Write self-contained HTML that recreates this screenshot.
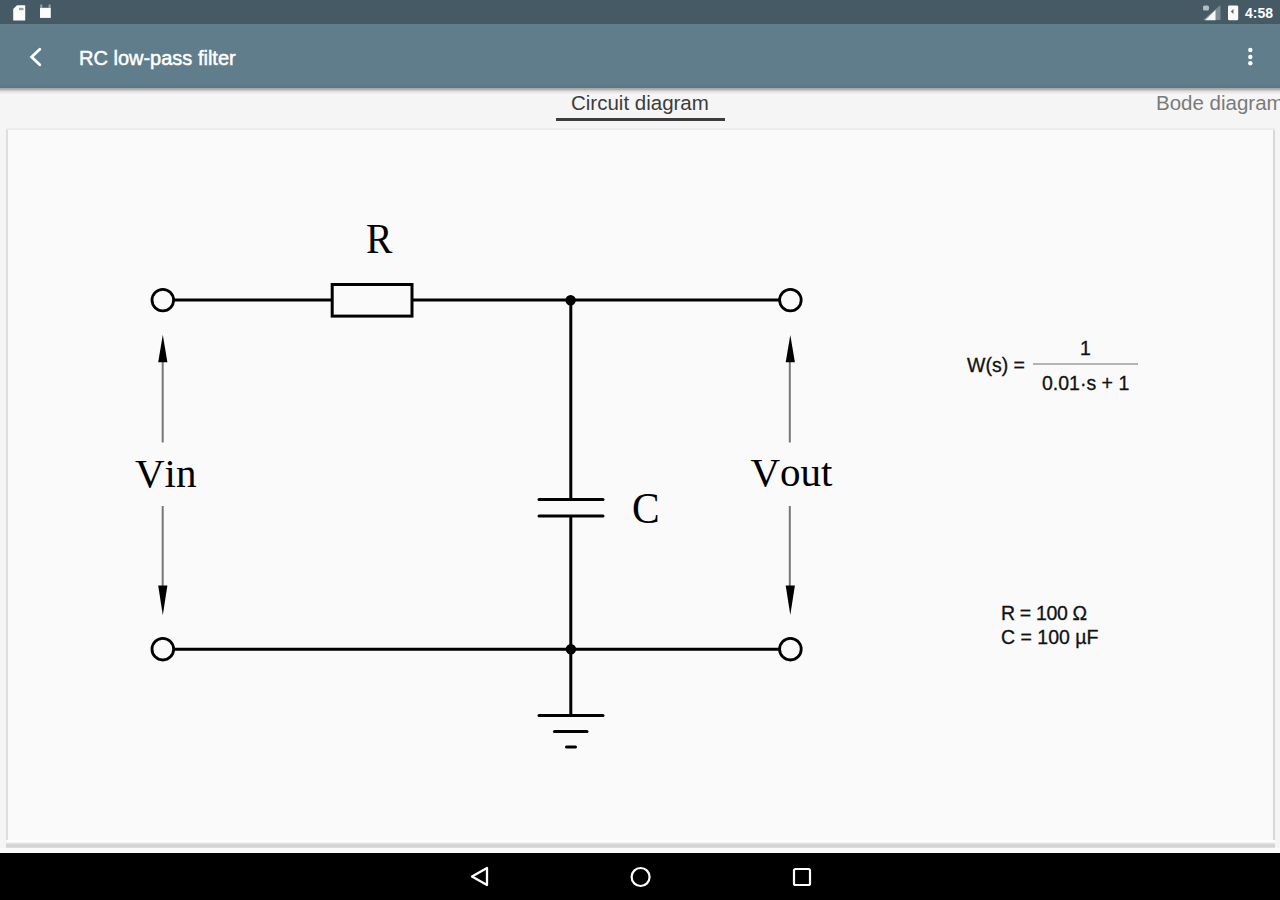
<!DOCTYPE html>
<html>
<head>
<meta charset="utf-8">
<style>
html,body{margin:0;padding:0;}
body{width:1280px;height:900px;overflow:hidden;position:relative;background:#f5f5f5;font-family:"Liberation Sans",sans-serif;}
.abs{position:absolute;}
#status{left:0;top:0;width:1280px;height:24px;background:#455a64;}
#toolbar{left:0;top:24px;width:1280px;height:64px;background:linear-gradient(#62808b 0,#607d8b 4px,#607d8b 60px,#5a7684 64px);}
#tshadow{left:0;top:88px;width:1280px;height:9px;background:linear-gradient(#a4a4a4 0,#b0b0b0 1.5px,#d9d9d9 3px,#ececec 5px,#f7f7f7 7px,#f5f5f5 9px);}
#title{left:79px;top:47px;font-size:20px;line-height:22px;color:#fff;white-space:nowrap;-webkit-text-stroke:0.5px #fff;}
.tab{top:92px;font-size:20.5px;line-height:22px;white-space:nowrap;}
#tab1{left:571px;color:#3c3c3c;}
#tab2{left:1156px;color:#7a7a7a;}
#uline{left:556px;top:118px;width:169px;height:3px;background:#3c3c3c;}
#panel{left:6px;top:128px;width:1269px;height:720px;background:#fafafa;}
#pl{left:6px;top:129px;width:2px;height:719px;background:#dedede;}
#pr{left:1273px;top:129px;width:2px;height:719px;background:#d8d8d8;}
#pt{left:6px;top:128px;width:1269px;height:2px;background:#ececec;}
#pb{left:6px;top:840px;width:1269px;height:8px;background:linear-gradient(#fdfdfd 0,#fdfdfd 2px,#e0e0e0 3.5px,#d3d3d3 5px,#d3d3d3 7px,#e8e8e8 8px);}
#below{left:0;top:848px;width:1280px;height:5px;background:#f9f9f9;}
#nav{left:0;top:853px;width:1280px;height:47px;background:#000;}
.serif{font-family:"Liberation Serif",serif;font-size:41px;line-height:41px;font-kerning:none;color:#000;white-space:nowrap;}
.sans{font-size:19.5px;line-height:22px;color:#111;white-space:nowrap;-webkit-text-stroke:0.3px #111;}
</style>
</head>
<body>
<div id="status" class="abs"></div>
<div id="toolbar" class="abs"></div>
<div id="tshadow" class="abs"></div>
<div id="panel" class="abs"></div><div id="pl" class="abs"></div><div id="pr" class="abs"></div><div id="pt" class="abs"></div><div id="pb" class="abs"></div><div id="below" class="abs"></div>
<div id="nav" class="abs"></div>

<div id="title" class="abs">RC low-pass filter</div>
<div id="tab1" class="abs tab">Circuit diagram</div>
<div id="tab2" class="abs tab">Bode diagram</div>
<div id="uline" class="abs"></div>

<div class="abs serif" style="left:365.5px;top:217.5px;font-size:43px;transform:scaleX(0.92);transform-origin:0 0;">R</div>
<div class="abs serif" style="left:631.5px;top:487.5px;font-size:44px;transform:scaleX(0.94);transform-origin:0 0;">C</div>
<div class="abs serif" style="left:135px;top:452.5px;">Vin</div>
<div class="abs serif" style="left:750.5px;top:452px;">Vout</div>

<div class="abs sans" style="left:967px;top:354px;">W(s) =</div>
<div class="abs sans" style="left:1080px;top:337px;">1</div>
<div class="abs sans" style="left:1042px;top:372px;">0.01·s + 1</div>
<div class="abs" style="left:1033px;top:363px;width:105px;height:2px;background:#b4b4b4;"></div>
<div class="abs sans" style="left:1001px;top:602px;letter-spacing:-0.35px;">R = 100 Ω</div>
<div class="abs sans" style="left:1001px;top:626px;">C = 100 µF</div>

<svg class="abs" style="left:0;top:0" width="1280" height="900" viewBox="0 0 1280 900">
  <!-- wires -->
  <g stroke="#000" stroke-width="3" fill="none">
    <line x1="173" y1="300" x2="332" y2="300"/>
    <rect x="332.2" y="284.5" width="79.8" height="31.6"/>
    <line x1="412" y1="300" x2="779" y2="300"/>
    <circle cx="162.8" cy="300.1" r="10.8" stroke-width="2.8"/>
    <circle cx="790.4" cy="300.1" r="10.8" stroke-width="2.8"/>
    <line x1="173" y1="649.2" x2="779" y2="649.2"/>
    <circle cx="162.8" cy="649.2" r="10.8" stroke-width="2.8"/>
    <circle cx="790.4" cy="649.2" r="10.8" stroke-width="2.8"/>
    <line x1="570.8" y1="300" x2="570.8" y2="499.5"/>
    <line x1="570.8" y1="516" x2="570.8" y2="715.5"/>
    <g stroke-linecap="round">
    <line x1="539" y1="499.5" x2="603" y2="499.5"/>
    <line x1="539" y1="516" x2="603" y2="516"/>
    <line x1="539" y1="715.5" x2="603" y2="715.5"/>
    <line x1="554.5" y1="731.5" x2="587" y2="731.5"/>
    <line x1="566.5" y1="747" x2="575.5" y2="747"/>
    </g>
  </g>
  <circle cx="570.6" cy="300.2" r="5.2" fill="#000"/>
  <circle cx="570.9" cy="649.2" r="5.2" fill="#000"/>
  <!-- arrows -->
  <g stroke="#777" stroke-width="2" fill="none">
    <line x1="162.7" y1="360" x2="162.7" y2="442.5"/>
    <line x1="162.7" y1="506" x2="162.7" y2="588"/>
    <line x1="789.8" y1="360" x2="789.8" y2="442.5"/>
    <line x1="789.8" y1="506" x2="789.8" y2="588"/>
  </g>
  <g fill="#000">
    <polygon points="162.8,334.8 158.2,362.3 167.4,362.3"/>
    <polygon points="162.8,615.2 158.2,585.6 167.4,585.6"/>
    <polygon points="790.3,335 785.7,362.3 794.9,362.3"/>
    <polygon points="790.3,615 785.7,585.6 794.9,585.6"/>
  </g>
  <!-- toolbar icons -->
  <polyline points="39.8,49.2 31.6,57 39.8,64.8" stroke="#fff" stroke-width="2.8" fill="none" stroke-linecap="round"/>
  <g fill="#fff">
    <circle cx="1250.3" cy="50" r="2.2"/>
    <circle cx="1250.3" cy="57" r="2.2"/>
    <circle cx="1250.3" cy="63.2" r="2.2"/>
  </g>
  <!-- status icons -->
  <path d="M17,5.2 H25.2 V20.4 H13.2 V9 Z" fill="#fbfdfd"/><rect x="19" y="7.8" width="4.5" height="2.4" fill="#9aa4a8"/>
  <path d="M40,7.8 H50.8 V17.9 H40 Z" fill="#fbfdfd"/><path d="M40.3,4.6 H42.3 V7.8 H40.3 Z M48.6,4.6 H50.6 V7.8 H48.6 Z" fill="#fff" opacity="0.45"/>
  <path d="M1203,20 L1220.5,20 L1220.5,5 Z" fill="#fff" opacity="0.3"/>
  <path d="M1205,20.2 L1215.5,20.2 L1215.5,10 Z" fill="#fff" opacity="0.95"/><rect x="1203" y="5.5" width="6" height="5" rx="1.5" fill="#fff" opacity="0.6"/>
  <rect x="1228" y="5.5" width="10.2" height="14.8" rx="1.2" fill="#fbfbfd"/><path d="M1233.5,9 L1230.8,11.5 L1233.5,14 Z" fill="#5a6a70"/>
  <!-- nav icons -->
  <polygon points="472,876.5 487,868 487,885" stroke="#fff" stroke-width="2.3" fill="none" stroke-linejoin="round"/>
  <circle cx="640.6" cy="877" r="9" stroke="#fff" stroke-width="2.2" fill="none"/>
  <rect x="794" y="869" width="16" height="16" rx="1.5" stroke="#fff" stroke-width="2.2" fill="none"/>
</svg>
<div class="abs" style="left:1245px;top:5px;font-size:14px;line-height:16px;font-weight:bold;color:#fff;">4:58</div>
</body>
</html>
